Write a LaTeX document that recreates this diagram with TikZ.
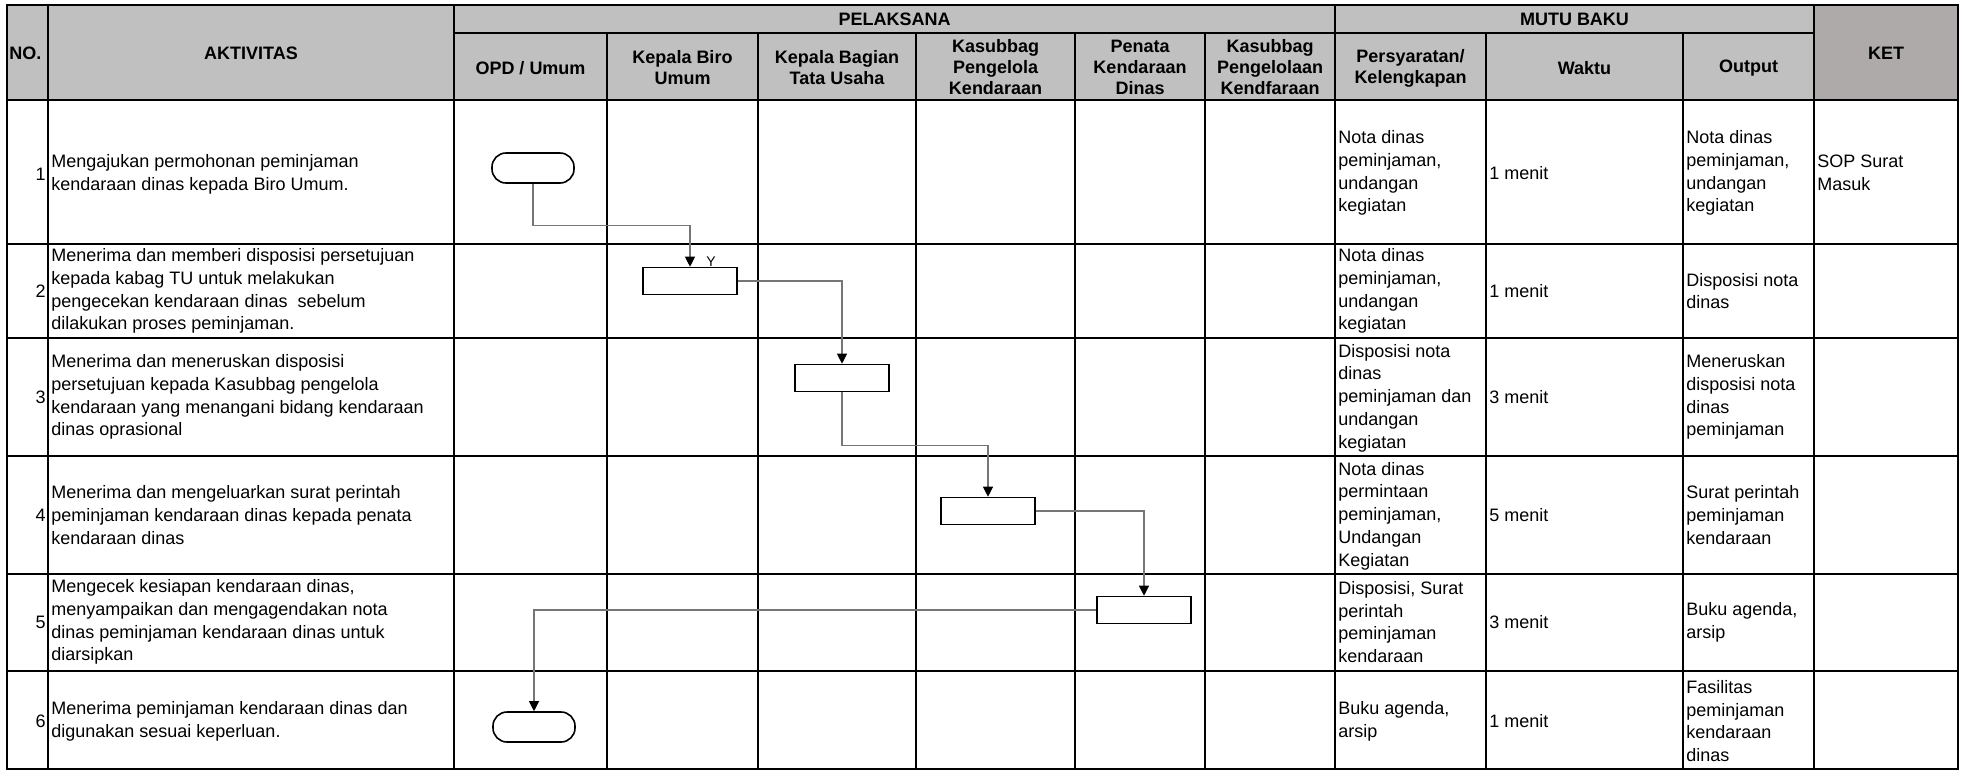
\documentclass[tikz,border=0pt]{standalone}
\usepackage{fontspec}
\setmainfont{Liberation Sans}
\usetikzlibrary{arrows.meta}

\definecolor{headgray}{RGB}{192,192,192}
\definecolor{ketgray}{RGB}{174,170,170}
\definecolor{linegray}{RGB}{118,118,118}

\tikzset{
  gridline/.style={line width=0.95pt},
  cell/.style={anchor=west, align=left, inner sep=0pt, font=\fontsize{9}{11.4}\selectfont},
  num/.style={anchor=east, inner sep=0pt, font=\fontsize{9}{11.4}\selectfont},
  head/.style={align=center, inner sep=0pt, font=\bfseries\fontsize{9}{10.5}\selectfont},
  act/.style={draw, line width=0.8pt, minimum width=47pt, minimum height=13.5pt, inner sep=0pt},
  term/.style={act, minimum width=41pt, minimum height=15pt, rounded corners=7pt},
  flow/.style={draw=linegray, line width=0.55pt, -{Triangle[width=5pt,length=5pt,color=black,fill=black]}},
  ylab/.style={inner sep=0pt, font=\fontsize{7}{8}\selectfont}
}

\begin{document}
\begin{tikzpicture}[x=0.5pt,y=-0.5pt]
\useasboundingbox (0,0) rectangle (1969,772);
\fill[white] (0,0) rectangle (1969,772);
%header fills
\fill[headgray] (7,5) rectangle (1814,100);
\fill[ketgray] (1814,5) rectangle (1958,100);
%draw table lines
\foreach \x in {48,454,1335,1814}{
   \draw[gridline] (\x,5) -- (\x,769);
}
\foreach \x in {607,758,916,1075,1205,1486,1683}{
   \draw[gridline] (\x,33) -- (\x,769);
}
\foreach \y in {100,244,338,456,574,671}{
   \draw[gridline] (7,\y) -- (1958,\y);
}
\draw[gridline] (454,33) -- (1814,33);
\draw[gridline] (7,5) rectangle (1958,769);
%header texts
\node[head, anchor=west] (hno) at (9,53) {NO.};
\node[head] (hakt) at (251,53) {AKTIVITAS};
\node[head] (hpel) at (894.5,19) {PELAKSANA};
\node[head] (hmutu) at (1574.5,19) {MUTU BAKU};
\node[head] (hket) at (1886,53) {KET};
\node[head] (hopd) at (530.5,68) {OPD / Umum};
\node[head] (hkb) at (682.5,68) {Kepala Biro\\Umum};
\node[head] (hkbtu) at (837,68) {Kepala Bagian\\Tata Usaha};
\node[head] (hkpk) at (995.5,67) {Kasubbag\\Pengelola\\Kendaraan};
\node[head] (hpkd) at (1140,67) {Penata\\Kendaraan\\Dinas};
\node[head] (hkpkf) at (1270,67) {Kasubbag\\Pengelolaan\\Kendfaraan};
\node[head] (hpers) at (1410.5,68) {Persyaratan/\\Kelengkapan};
\node[head] (hwaktu) at (1584.5,68) {Waktu};
\node[head] (hout) at (1748.5,68) {Output};
% row 1
\node[num] (n1) at (46,174) {1};
\node[cell] (a1) at (51,174) {Mengajukan permohonan peminjaman\\kendaraan dinas kepada Biro Umum.};
\node[cell] (p1) at (1338,173) {Nota dinas\\peminjaman,\\undangan\\kegiatan};
\node[cell] (w1) at (1489,173) {1 menit};
\node[cell] (o1) at (1686,173) {Nota dinas\\peminjaman,\\undangan\\kegiatan};
\node[cell] (k1) at (1817,173) {SOP Surat\\Masuk};
% row 2
\node[num] (n2) at (46,291) {2};
\node[cell] (a2) at (51,291) {Menerima dan memberi disposisi persetujuan\\kepada kabag TU untuk melakukan\\pengecekan kendaraan dinas \ sebelum\\dilakukan proses peminjaman.};
\node[cell] (p2) at (1338,291) {Nota dinas\\peminjaman,\\undangan\\kegiatan};
\node[cell] (w2) at (1489,291) {1 menit};
\node[cell] (o2) at (1686,291) {Disposisi nota\\dinas};
% row 3
\node[num] (n3) at (46,397) {3};
\node[cell] (a3) at (51,397) {Menerima dan meneruskan disposisi\\persetujuan kepada Kasubbag pengelola\\kendaraan yang menangani bidang kendaraan\\dinas oprasional};
\node[cell] (p3) at (1338,398) {Disposisi nota\\dinas\\peminjaman dan\\undangan\\kegiatan};
\node[cell] (w3) at (1489,397) {3 menit};
\node[cell] (o3) at (1686,397) {Meneruskan\\disposisi nota\\dinas\\peminjaman};
% row 4
\node[num] (n4) at (46,515) {4};
\node[cell] (a4) at (51,515) {Menerima dan mengeluarkan surat perintah\\peminjaman kendaraan dinas kepada penata\\kendaraan dinas};
\node[cell] (p4) at (1338,516) {Nota dinas\\permintaan\\peminjaman,\\Undangan\\Kegiatan};
\node[cell] (w4) at (1489,515) {5 menit};
\node[cell] (o4) at (1686,515) {Surat perintah\\peminjaman\\kendaraan};
% row 5
\node[num] (n5) at (46,622) {5};
\node[cell] (a5) at (51,622) {Mengecek kesiapan kendaraan dinas,\\menyampaikan dan mengagendakan nota\\dinas peminjaman kendaraan dinas untuk\\diarsipkan};
\node[cell] (p5) at (1338,622) {Disposisi, Surat\\perintah\\peminjaman\\kendaraan};
\node[cell] (w5) at (1489,622) {3 menit};
\node[cell] (o5) at (1686,622) {Buku agenda,\\arsip};
% row 6
\node[num] (n6) at (46,721) {6};
\node[cell] (a6) at (51,721) {Menerima peminjaman kendaraan dinas dan\\digunakan sesuai keperluan.};
\node[cell] (p6) at (1338,721) {Buku agenda,\\arsip};
\node[cell] (w6) at (1489,721) {1 menit};
\node[cell] (o6) at (1686,721) {Fasilitas\\peminjaman\\kendaraan\\dinas};
% flow symbols
\node[term] (t1) at (533,168) {};
\node[act] (b2) at (690,281) {};
\node[act] (b3) at (842,378) {};
\node[act] (b4) at (988,511) {};
\node[act] (b5) at (1144,610) {};
\node[term] (t6) at (534,727) {};
\node[ylab] (ylbl) at (711,262) {Y};
% connectors
\draw[flow] (t1.south) -- ++(0,42) -| (b2.north);
\draw[flow] (b2.east) -| (b3.north);
\draw[flow] (b3.south) -- ++(0,53) -| (b4.north);
\draw[flow] (b4.east) -| (b5.north);
\draw[flow] (b5.west) -| (t6.north);
\end{tikzpicture}
\end{document}
